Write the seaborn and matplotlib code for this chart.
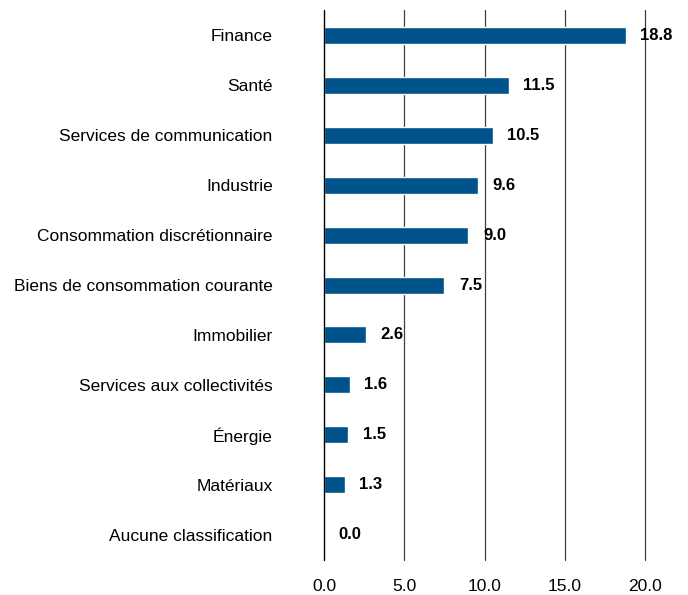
import matplotlib
matplotlib.use("Agg")
import matplotlib.pyplot as plt
from matplotlib import font_manager
import seaborn as sns
import pandas as pd

sectors = ["Finance", "Santé", "Services de communication", "Industrie",
           "Consommation discrétionnaire", "Biens de consommation courante",
           "Immobilier", "Services aux collectivités", "Énergie", "Matériaux",
           "Aucune classification"]
weights = [18.8, 11.5, 10.5, 9.6, 9.0, 7.5, 2.6, 1.6, 1.5, 1.3, 0.0]
x_ticks = [0, 5, 10, 15, 20]

df = pd.DataFrame({"sector": sectors, "weight": weights})

sns.set_style("white")
names = {f.name for f in font_manager.fontManager.ttflist}
family = "Liberation Sans Narrow" if "Liberation Sans Narrow" in names else "Liberation Sans"
plt.rcParams["font.family"] = [family, "DejaVu Sans"]

fig, ax = plt.subplots(figsize=(6.88, 5.95), dpi=100)
fig.subplots_adjust(left=0.471, right=0.9375, top=0.983, bottom=0.059)

sns.barplot(data=df, y="sector", x="weight", color="#00538A", width=0.34,
            saturation=1, ax=ax, zorder=3)

for i, v in enumerate(weights):
    ax.text(v + 0.9, i, f"{v:.1f}", va="center", ha="left",
            fontsize=12, fontweight="bold", color="black", zorder=4)

ax.set_xlim(0, 20)
ax.set_ylim(10.5, -0.5)
ax.set_xticks(x_ticks)
ax.set_xticklabels([f"{t:.1f}" for t in x_ticks])
for t in x_ticks[1:]:
    ax.axvline(t, color="#404040", lw=0.9, zorder=1, clip_on=False)
ax.axvline(0, color="black", lw=1.0, zorder=4, clip_on=False)

for s in ax.spines.values():
    s.set_visible(False)
ax.tick_params(axis="both", length=0, labelsize=12.5, colors="black")
ax.tick_params(axis="x", pad=14)
ax.tick_params(axis="y", pad=37)
ax.set_xlabel("")
ax.set_ylabel("")

plt.savefig("out.png", dpi=100)
